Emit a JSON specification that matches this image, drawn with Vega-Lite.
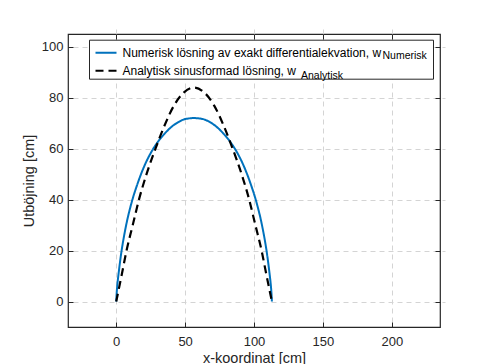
{
  "$schema": "https://vega.github.io/schema/vega-lite/v6.json",
  "width": 372,
  "height": 293,
  "autosize": {"type": "none"},
  "padding": {"left": 68, "top": 34, "right": 46, "bottom": 37},
  "background": "white",
  "config": {
    "font": "Liberation Sans",
    "view": {"stroke": "#262626", "strokeWidth": 1.2},
    "axis": {
      "domain": false,
      "grid": true,
      "gridDash": [5, 4],
      "gridColor": "#d4d4d4",
      "gridWidth": 1,
      "tickColor": "#262626",
      "tickSize": 5,
      "tickWidth": 1,
      "offset": -5,
      "labelFont": "Liberation Sans",
      "labelFontSize": 13,
      "labelColor": "#262626",
      "titleFont": "Liberation Sans",
      "titleFontSize": 14.5,
      "titleFontWeight": "normal",
      "titleColor": "#262626"
    }
  },
  "datasets": {
    "kurvor": [
      {"serie": "Numerisk", "x": 0, "y": 0},
      {"serie": "Numerisk", "x": 0.3, "y": 3},
      {"serie": "Numerisk", "x": 0.8, "y": 6.5},
      {"serie": "Numerisk", "x": 1.5, "y": 10},
      {"serie": "Numerisk", "x": 2.4, "y": 14},
      {"serie": "Numerisk", "x": 3.5, "y": 18.5},
      {"serie": "Numerisk", "x": 4.8, "y": 23},
      {"serie": "Numerisk", "x": 6.3, "y": 27.5},
      {"serie": "Numerisk", "x": 8, "y": 32},
      {"serie": "Numerisk", "x": 10, "y": 36.5},
      {"serie": "Numerisk", "x": 12.3, "y": 41},
      {"serie": "Numerisk", "x": 15, "y": 45.5},
      {"serie": "Numerisk", "x": 18, "y": 50},
      {"serie": "Numerisk", "x": 21.5, "y": 54.5},
      {"serie": "Numerisk", "x": 25.5, "y": 58.7},
      {"serie": "Numerisk", "x": 30, "y": 62.5},
      {"serie": "Numerisk", "x": 35, "y": 65.8},
      {"serie": "Numerisk", "x": 40, "y": 68.5},
      {"serie": "Numerisk", "x": 45, "y": 70.4},
      {"serie": "Numerisk", "x": 50, "y": 71.6},
      {"serie": "Numerisk", "x": 56.5, "y": 72},
      {"serie": "Numerisk", "x": 63, "y": 71.6},
      {"serie": "Numerisk", "x": 68, "y": 70.4},
      {"serie": "Numerisk", "x": 73, "y": 68.5},
      {"serie": "Numerisk", "x": 78, "y": 65.8},
      {"serie": "Numerisk", "x": 83, "y": 62.5},
      {"serie": "Numerisk", "x": 87.5, "y": 58.7},
      {"serie": "Numerisk", "x": 91.5, "y": 54.5},
      {"serie": "Numerisk", "x": 95, "y": 50},
      {"serie": "Numerisk", "x": 98, "y": 45.5},
      {"serie": "Numerisk", "x": 100.7, "y": 41},
      {"serie": "Numerisk", "x": 103, "y": 36.5},
      {"serie": "Numerisk", "x": 105, "y": 32},
      {"serie": "Numerisk", "x": 106.7, "y": 27.5},
      {"serie": "Numerisk", "x": 108.2, "y": 23},
      {"serie": "Numerisk", "x": 109.5, "y": 18.5},
      {"serie": "Numerisk", "x": 110.6, "y": 14},
      {"serie": "Numerisk", "x": 111.5, "y": 10},
      {"serie": "Numerisk", "x": 112.2, "y": 6.5},
      {"serie": "Numerisk", "x": 112.7, "y": 3},
      {"serie": "Numerisk", "x": 113, "y": 0},
      {"serie": "Analytisk", "x": 0, "y": 0},
      {"serie": "Analytisk", "x": 4, "y": 10.5},
      {"serie": "Analytisk", "x": 7.5, "y": 20},
      {"serie": "Analytisk", "x": 12, "y": 30},
      {"serie": "Analytisk", "x": 16.5, "y": 40},
      {"serie": "Analytisk", "x": 22, "y": 50},
      {"serie": "Analytisk", "x": 28.5, "y": 60},
      {"serie": "Analytisk", "x": 35, "y": 69},
      {"serie": "Analytisk", "x": 42, "y": 77},
      {"serie": "Analytisk", "x": 49, "y": 82},
      {"serie": "Analytisk", "x": 56.5, "y": 84},
      {"serie": "Analytisk", "x": 64, "y": 82},
      {"serie": "Analytisk", "x": 71, "y": 77},
      {"serie": "Analytisk", "x": 78, "y": 69},
      {"serie": "Analytisk", "x": 84.5, "y": 60},
      {"serie": "Analytisk", "x": 91, "y": 50},
      {"serie": "Analytisk", "x": 96.5, "y": 40},
      {"serie": "Analytisk", "x": 101, "y": 30},
      {"serie": "Analytisk", "x": 105.5, "y": 20},
      {"serie": "Analytisk", "x": 109, "y": 10.5},
      {"serie": "Analytisk", "x": 113, "y": 0}
    ]
  },
  "data": {"name": "kurvor"},
  "layer": [
    {
      "transform": [{"filter": "datum.serie == 'Numerisk'"}],
      "mark": {"type": "line", "interpolate": "monotone", "strokeWidth": 2},
      "encoding": {
        "x": {
          "field": "x", "type": "quantitative",
          "scale": {"domain": [-35, 235], "nice": false, "zero": false},
          "axis": {"orient": "bottom", "values": [0, 50, 100, 150, 200], "title": "x-koordinat [cm]", "labelPadding": 8, "titlePadding": 3}
        },
        "y": {
          "field": "y", "type": "quantitative",
          "scale": {"domain": [-10, 105], "nice": false, "zero": false},
          "axis": {"orient": "left", "values": [0, 20, 40, 60, 80, 100], "title": "Utböjning [cm]", "labelPadding": 5, "titlePadding": 5}
        },
        "color": {
          "field": "serie", "type": "nominal",
          "scale": {"domain": ["Numerisk", "Analytisk"], "range": ["#0072BD", "#000000"]},
          "legend": {
            "orient": "none", "legendX": 21, "legendY": 5.7, "title": null,
            "symbolType": "stroke", "symbolSize": 441, "symbolStrokeWidth": 2,
            "labelFontSize": 12, "labelFont": "Liberation Sans", "labelColor": "#000000", "labelLimit": 500,
            "strokeColor": "#262626", "fillColor": "white", "padding": 1.5, "rowPadding": 0,
            "symbolOffset": 4, "labelOffset": 5,
            "labelExpr": "datum.value == 'Numerisk' ? 'Numerisk lösning av exakt differentialekvation, w               \u200b' : 'Analytisk sinusformad lösning, w'"
          }
        },
        "strokeDash": {
          "field": "serie", "type": "nominal",
          "scale": {"domain": ["Numerisk", "Analytisk"], "range": [[1, 0], [8, 5]]},
          "legend": {
            "orient": "none", "legendX": 21, "legendY": 5.7, "title": null,
            "symbolType": "stroke", "symbolSize": 441, "symbolStrokeWidth": 2,
            "labelFontSize": 12, "labelFont": "Liberation Sans", "labelColor": "#000000", "labelLimit": 500,
            "strokeColor": "#262626", "fillColor": "white", "padding": 1.5, "rowPadding": 0,
            "symbolOffset": 4, "labelOffset": 5,
            "labelExpr": "datum.value == 'Numerisk' ? 'Numerisk lösning av exakt differentialekvation, w               \u200b' : 'Analytisk sinusformad lösning, w'"
          }
        },
        "strokeWidth": {
          "field": "serie", "type": "nominal",
          "scale": {"domain": ["Numerisk"], "range": [2]},
          "legend": {
            "orient": "none", "legendX": 314.5, "legendY": 22, "title": null,
            "symbolSize": 1, "symbolOpacity": 0, "symbolStrokeWidth": 0, "labelOffset": 0, "padding": 0,
            "labelFontSize": 10.5, "labelFont": "Liberation Sans", "labelColor": "#000000"
          }
        }
      }
    },
    {
      "transform": [{"filter": "datum.serie == 'Analytisk'"}],
      "mark": {"type": "line", "interpolate": "monotone", "strokeWidth": 2.2},
      "encoding": {
        "x": {
          "field": "x", "type": "quantitative",
          "axis": {"orient": "top", "values": [0, 50, 100, 150, 200], "labels": false, "grid": false, "title": null}
        },
        "y": {
          "field": "y", "type": "quantitative",
          "axis": {"orient": "right", "values": [0, 20, 40, 60, 80, 100], "labels": false, "grid": false, "title": null}
        },
        "color": {"field": "serie", "type": "nominal"},
        "strokeDash": {"field": "serie", "type": "nominal"},
        "opacity": {
          "field": "serie", "type": "nominal",
          "scale": {"domain": ["Analytisk"], "range": [1]},
          "legend": {
            "orient": "none", "legendX": 222.5, "legendY": 37, "title": null,
            "symbolSize": 1, "symbolOpacity": 0, "symbolStrokeWidth": 0, "labelOffset": 0, "padding": 0,
            "labelFontSize": 10.5, "labelFont": "Liberation Sans", "labelColor": "#000000"
          }
        }
      }
    }
  ],
  "resolve": {"axis": {"x": "independent", "y": "independent"}}
}
